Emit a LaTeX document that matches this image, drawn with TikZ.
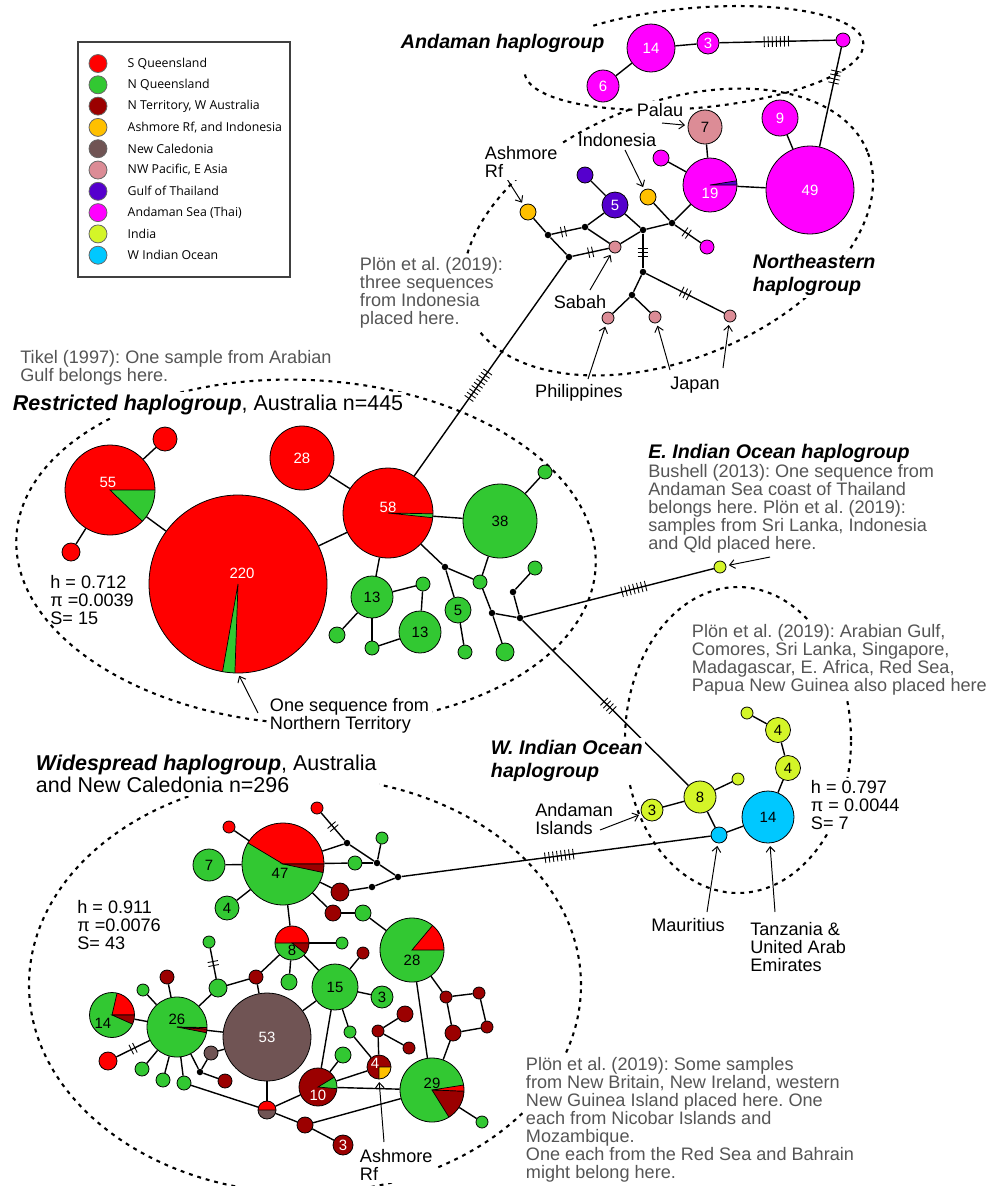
\documentclass[tikz,border=0pt]{standalone}
\usepackage{fontspec}
\setmainfont{Liberation Sans}
\newfontfamily\legfont{Open Sans}
\usetikzlibrary{positioning}
\usetikzlibrary{arrows.meta}
\usetikzlibrary{decorations.markings}

\definecolor{sqld}{RGB}{255,0,0}
\definecolor{nqld}{RGB}{50,200,50}
\definecolor{nterr}{RGB}{155,0,0}
\definecolor{ashm}{RGB}{255,192,0}
\definecolor{ncal}{RGB}{112,84,84}
\definecolor{nwpac}{RGB}{220,140,150}
\definecolor{gthai}{RGB}{85,0,205}
\definecolor{andam}{RGB}{255,0,255}
\definecolor{india}{RGB}{212,245,40}
\definecolor{wind}{RGB}{0,200,255}
\definecolor{notegray}{RGB}{85,85,85}

\newcommand{\notefont}{\fontsize{10.3}{10.2}\selectfont}
\newcommand{\grpfont}{\fontsize{11.2}{13}\selectfont\bfseries\itshape}
\newcommand{\ttlfont}{\fontsize{12.2}{12.8}\selectfont}

\pgfdeclarelayer{back}
\pgfsetlayers{back,main}
\frenchspacing

\begin{document}
\begin{tikzpicture}[x=0.2mm, y=0.2mm,
    hap/.style={circle, draw=black, line width=0.45pt, inner sep=0pt, minimum size=#1*0.4mm, font=\fontsize{8.5}{9}\selectfont},
    jn/.style={circle, fill=black, inner sep=0pt, minimum size=1.3mm},
    link/.style={line width=0.8pt},
    grp/.style={line width=1.2pt, dash pattern=on 2.2pt off 2.8pt},
    arr/.style={-{Straight Barb[length=3pt, width=5pt]}, line width=0.55pt, shorten >=1.5pt},
    muts/.style 2 args={postaction={decorate, decoration={markings, mark=at position #1 with {\foreach \k in {1,...,#2} {\draw[line width=0.5pt] ({(\k-0.5-#2/2)*2.3pt},-3pt) -- ++(0,6pt);}}}}},
    note/.style={text=notegray, align=left, inner sep=0pt, font=\notefont},
    tag/.style={align=left, inner sep=0pt, font=\notefont},
    grplbl/.style={align=left, inner sep=0pt, font=\grpfont},
    cut/.style={fill=white, inner sep=1.5pt},
    legtxt/.style={inner sep=0pt, font=\legfont\fontsize{7}{8}\selectfont},
    every label/.style={inner sep=0pt, font=\fontsize{8.5}{9}\selectfont},
    ]
    \useasboundingbox (0,0) rectangle (996,-1186);

    % legend
    \draw[black!75, line width=1pt] (78,-42) rectangle (290,-277);
    \node[hap=9, fill=sqld, draw=black!60] (leg1) at (98,-63.5) {};
    \node[legtxt, right=4mm of leg1] (legt1) {S Queensland};
    \node[hap=9, fill=nqld, draw=black!60] (leg2) at (98,-84.8) {};
    \node[legtxt, right=4mm of leg2] (legt2) {N Queensland};
    \node[hap=9, fill=nterr, draw=black!60] (leg3) at (98,-106.1) {};
    \node[legtxt, right=4mm of leg3] (legt3) {N Territory, W Australia};
    \node[hap=9, fill=ashm, draw=black!60] (leg4) at (98,-127.4) {};
    \node[legtxt, right=4mm of leg4] (legt4) {Ashmore Rf, and Indonesia};
    \node[hap=9, fill=ncal, draw=black!60] (leg5) at (98,-148.7) {};
    \node[legtxt, right=4mm of leg5] (legt5) {New Caledonia};
    \node[hap=9, fill=nwpac, draw=black!60] (leg6) at (98,-170) {};
    \node[legtxt, right=4mm of leg6] (legt6) {NW Pacific, E Asia};
    \node[hap=9, fill=gthai, draw=black!60] (leg7) at (98,-191.3) {};
    \node[legtxt, right=4mm of leg7] (legt7) {Gulf of Thailand};
    \node[hap=9, fill=andam, draw=black!60] (leg8) at (98,-212.6) {};
    \node[legtxt, right=4mm of leg8] (legt8) {Andaman Sea (Thai)};
    \node[hap=9, fill=india, draw=black!60] (leg9) at (98,-233.9) {};
    \node[legtxt, right=4mm of leg9] (legt9) {India};
    \node[hap=9, fill=wind, draw=black!60] (leg10) at (98,-255.2) {};
    \node[legtxt, right=4mm of leg10] (legt10) {W Indian Ocean};

    % Andaman and Northeastern haplogroups
    \node[hap=24, fill=andam, text=white] (a14) at (651,-48) {14};
    \node[hap=16, fill=andam, text=white] (a6) at (603,-86) {6};
    \node[hap=11, fill=andam, text=white] (a3) at (708,-43) {3};
    \node[hap=7, fill=andam] (aT) at (843,-40) {};
    \node[hap=44, fill=andam, text=white] (ne49) at (810,-190) {49};
    \node[hap=18, fill=andam, text=white] (ne9) at (780,-118) {9};
    \node[hap=27, fill=andam, path picture={\filldraw[fill=gthai, line width=0.4pt] (path picture bounding box.center) -- +(0:100) arc[start angle=0, end angle=9, radius=100] -- cycle;}, label={[text=white, yshift=-1.6mm]center:19}] (ne19) at (710,-185) {};
    \node[hap=17, fill=nwpac] (ne7) at (705,-127) {7};
    \node[hap=8, fill=andam] (neM1) at (661,-158) {};
    \node[hap=7, fill=andam] (neM2) at (707,-247) {};
    \node[hap=8, fill=ashm] (neY1) at (528,-212) {};
    \node[hap=8, fill=ashm] (neY2) at (648,-197) {};
    \node[hap=8, fill=gthai] (neP) at (585,-175) {};
    \node[hap=13, fill=gthai, text=white] (ne5) at (615,-205) {5};
    \node[hap=6, fill=nwpac] (neS) at (615,-247) {};
    \node[hap=6, fill=nwpac] (neP1) at (608,-318) {};
    \node[hap=6, fill=nwpac] (neP2) at (655,-317) {};
    \node[hap=6, fill=nwpac] (neP3) at (730,-316) {};
    \node[jn] (j1) at (548,-235) {};
    \node[jn] (j2) at (585,-227) {};
    \node[jn] (j3) at (569,-257) {};
    \node[jn] (j4) at (643,-230) {};
    \node[jn] (j5) at (672,-223) {};
    \node[jn] (j6) at (643,-272) {};
    \node[jn] (j7) at (632,-295) {};

    % Restricted haplogroup
    \node[hap=45, fill=sqld, path picture={\filldraw[fill=nqld, line width=0.4pt] (path picture bounding box.center) -- +(-44:100) arc[start angle=-44, end angle=0, radius=100] -- cycle;}, label={[text=white, xshift=-0.4mm, yshift=1.6mm]center:55}] (r55) at (110,-490) {};
    \node[hap=12, fill=sqld] (rS1) at (165,-439) {};
    \node[hap=9, fill=sqld] (rS2) at (71,-552) {};
    \node[hap=89, fill=sqld, path picture={\filldraw[fill=nqld, line width=0.4pt] (path picture bounding box.center) -- +(-100:100) arc[start angle=-100, end angle=-92, radius=100] -- cycle;}, label={[text=white, xshift=0.8mm, yshift=2.2mm]center:220}] (r220) at (238,-584) {};
    \node[hap=32, fill=sqld, text=white] (r28) at (302,-458) {28};
    \node[hap=45, fill=sqld, path picture={\filldraw[fill=nqld, line width=0.4pt] (path picture bounding box.center) -- +(-6:100) arc[start angle=-6, end angle=-1, radius=100] -- cycle;}, label={[text=white, yshift=1.2mm]center:58}] (r58) at (388,-513) {};
    \node[hap=37, fill=nqld] (r38) at (500,-521) {38};
    \node[hap=7, fill=nqld] (rG1) at (545,-472) {};
    \node[hap=7, fill=nqld] (rG2) at (535,-568) {};
    \node[hap=21, fill=nqld] (r13a) at (372,-597) {13};
    \node[hap=21, fill=nqld] (r13b) at (420,-632) {13};
    \node[hap=13, fill=nqld] (r5) at (458,-610) {5};
    \node[hap=7, fill=nqld] (rG3) at (423,-584) {};
    \node[hap=8, fill=nqld] (rG4) at (337,-635) {};
    \node[hap=7, fill=nqld] (rG5) at (372,-648) {};
    \node[hap=7, fill=nqld] (rG6) at (465,-652) {};
    \node[hap=9, fill=nqld] (rG7) at (505,-652) {};
    \node[hap=7, fill=nqld] (rG8) at (480,-582) {};
    \node[jn] (rj1) at (445,-567) {};
    \node[jn] (rj2) at (492,-613) {};
    \node[jn] (rj3) at (520,-618) {};
    \node[jn] (rj4) at (513,-592) {};

    % E. and W. Indian Ocean haplogroups
    \node[hap=6, fill=india] (eI) at (720,-567) {};
    \node[hap=16, fill=india] (w8) at (700,-797) {8};
    \node[hap=11, fill=india] (w3) at (652,-810) {3};
    \node[hap=6, fill=india] (wS1) at (738,-779) {};
    \node[hap=12.5, fill=india] (w4a) at (778,-730) {4};
    \node[hap=12.5, fill=india] (w4b) at (788,-768) {4};
    \node[hap=6, fill=india] (wS2) at (747,-713) {};
    \node[hap=26, fill=wind] (w14) at (768,-817) {14};
    \node[hap=8, fill=wind] (wM) at (719,-835) {};

    % Widespread haplogroup
    \node[hap=41, fill=nqld, path picture={\filldraw[fill=sqld, line width=0.4pt] (path picture bounding box.center) -- +(0:100) arc[start angle=0, end angle=149, radius=100] -- cycle; \filldraw[fill=nterr, line width=0.4pt] (path picture bounding box.center) -- +(-12:100) arc[start angle=-12, end angle=0, radius=100] -- cycle;}, label={[xshift=-0.6mm, yshift=-1.8mm]center:47}] (s47) at (283,-864) {};
    \node[hap=6, fill=sqld] (sR1) at (229,-827) {};
    \node[hap=6, fill=sqld] (sR2) at (317,-808) {};
    \node[hap=16, fill=nqld] (s7) at (209,-865) {7};
    \node[hap=12, fill=nqld] (s4) at (227,-908) {4};
    \node[jn] (sj1) at (347,-843) {};
    \node[jn] (sj2) at (377,-863) {};
    \node[jn] (sj3) at (398,-877) {};
    \node[jn] (sj4) at (372,-887) {};
    \node[hap=6, fill=nqld] (sG1) at (382,-838) {};
    \node[hap=7, fill=nqld] (sG2) at (355,-863) {};
    \node[hap=9, fill=nterr] (sD1) at (340,-892) {};
    \node[hap=8, fill=nterr] (sD2) at (333,-913) {};
    \node[hap=8, fill=nqld] (sG3) at (363,-913) {};
    \node[hap=17, fill=nqld, path picture={\filldraw[fill=sqld, line width=0.4pt] (path picture bounding box.center) -- +(0:100) arc[start angle=0, end angle=180, radius=100] -- cycle; \filldraw[fill=nterr, line width=0.4pt] (path picture bounding box.center) -- +(-38:100) arc[start angle=-38, end angle=0, radius=100] -- cycle;}, label={[yshift=-1.4mm]center:8}] (s8) at (292,-943) {};
    \node[hap=23, fill=nqld] (s15) at (335,-987) {15};
    \node[hap=11, fill=nqld] (s3) at (382,-997) {3};
    \node[hap=44, fill=ncal, text=white] (s53) at (267,-1037) {53};
    \node[hap=30, fill=nqld, path picture={\filldraw[fill=nterr, line width=0.4pt] (path picture bounding box.center) -- +(-11:100) arc[start angle=-11, end angle=-4, radius=100] -- cycle; \filldraw[fill=sqld, line width=0.4pt] (path picture bounding box.center) -- +(-4:100) arc[start angle=-4, end angle=-1, radius=100] -- cycle;}, label={[yshift=1.6mm]center:26}] (s26) at (177,-1027) {};
    \node[hap=22.5, fill=nqld, path picture={\filldraw[fill=sqld, line width=0.4pt] (path picture bounding box.center) -- +(0:100) arc[start angle=0, end angle=77, radius=100] -- cycle; \filldraw[fill=nterr, line width=0.4pt] (path picture bounding box.center) -- +(-24:100) arc[start angle=-24, end angle=0, radius=100] -- cycle;}, label={[xshift=-1.8mm, yshift=-1.6mm]center:14}] (s14) at (112,-1015) {};
    \node[hap=9, fill=sqld] (sR3) at (108,-1061) {};
    \node[hap=6, fill=nqld] (sG4) at (143,-990) {};
    \node[hap=7, fill=nqld] (sG5) at (142,-1069) {};
    \node[hap=7, fill=nqld] (sG6) at (163,-1080) {};
    \node[hap=7, fill=nqld] (sG7) at (184,-1083) {};
    \node[hap=7, fill=nterr] (sD3) at (167,-977) {};
    \node[hap=6, fill=nqld] (sG8) at (209,-942) {};
    \node[hap=9, fill=nqld] (sG9) at (218,-988) {};
    \node[hap=7, fill=nterr] (sD4) at (256,-977) {};
    \node[hap=8, fill=nqld] (sG10) at (289,-982) {};
    \node[hap=7, fill=ncal] (sB) at (211,-1053) {};
    \node[jn] (sj5) at (200,-1072) {};
    \node[hap=7, fill=nterr] (sD5) at (225,-1081) {};
    \node[hap=9, fill=ncal, path picture={\filldraw[fill=sqld, line width=0.4pt] (path picture bounding box.center) -- +(0:100) arc[start angle=0, end angle=180, radius=100] -- cycle;}] (sH) at (267,-1110) {};
    \node[hap=19, fill=nterr, path picture={\filldraw[fill=nqld, line width=0.4pt] (path picture bounding box.center) -- +(-5:100) arc[start angle=-5, end angle=31, radius=100] -- cycle;}, label={[text=white, yshift=-1.6mm]center:10}] (s10) at (318,-1087) {};
    \node[hap=8, fill=nterr] (sD6) at (305,-1125) {};
    \node[hap=10, fill=nterr, text=white] (s3r) at (343,-1145) {3};
    \node[hap=32, fill=nqld, path picture={\filldraw[fill=sqld, line width=0.4pt] (path picture bounding box.center) -- +(0:100) arc[start angle=0, end angle=50, radius=100] -- cycle;}, label={[yshift=-2mm]center:28}] (s28) at (412,-950) {};
    \node[hap=32, fill=nqld, path picture={\filldraw[fill=nterr, line width=0.4pt] (path picture bounding box.center) -- +(-58:100) arc[start angle=-58, end angle=-2, radius=100] -- cycle; \filldraw[fill=sqld, line width=0.4pt] (path picture bounding box.center) -- +(-2:100) arc[start angle=-2, end angle=9, radius=100] -- cycle;}, label={[yshift=1.4mm]center:29}] (s29) at (432,-1090) {};
    \node[hap=6, fill=nqld] (sG11) at (482,-1122) {};
    \node[hap=6, fill=nterr] (sD7) at (363,-953) {};
    \node[hap=8, fill=nterr] (sD8) at (405,-1014) {};
    \node[hap=6, fill=nterr] (sD9) at (378,-1031) {};
    \node[hap=6, fill=nterr] (sD10) at (409,-1048) {};
    \node[hap=6, fill=nterr] (sD11) at (446,-997) {};
    \node[hap=6, fill=nterr] (sD12) at (479,-993) {};
    \node[hap=6, fill=nterr] (sD13) at (487,-1027) {};
    \node[hap=8, fill=nterr] (sD14) at (453,-1033) {};
    \node[hap=6, fill=nqld] (sG12) at (350,-1032) {};
    \node[hap=8, fill=nqld] (sG13) at (343,-1055) {};
    \node[hap=6, fill=nqld] (sG14) at (342,-943) {};
    \node[hap=12, fill=nterr, path picture={\filldraw[fill=ashm, line width=0.4pt] (path picture bounding box.center) -- +(-90:100) arc[start angle=-90, end angle=0, radius=100] -- cycle;}, label={[text=white, xshift=-0.8mm, yshift=0.8mm]center:4}] (s4y) at (379,-1067) {};

    % texts
    \node[grplbl, cut, anchor=west] (andLbl) at (398,-43) {Andaman haplogroup};
    \node[tag, cut, anchor=west] (neAshL) at (482,-162) {Ashmore\\Rf};
    \node[tag] (neIndoL) at (617,-140) {Indonesia};
    \node[tag, cut] (nePalL) at (660,-110) {Palau};
    \node[note, cut, anchor=west] (nePlon) at (357,-293) {Plön et al. (2019):\\three sequences\\from Indonesia\\placed here.};
    \node[tag] (neSabL) at (580,-302) {Sabah};
    \node[tag] (nePhL) at (579,-393) {Philippines};
    \node[tag] (neJpL) at (695,-385) {Japan};
    \node[grplbl, cut, anchor=west] (neLbl) at (750,-275) {Northeastern\\haplogroup};
    \node[note, anchor=west] (rTikel) at (20,-368) {Tikel (1997): One sample from Arabian\\Gulf belongs here.};
    \node[cut, anchor=west, font=\ttlfont] (rTitle) at (10,-405) {\textbf{\textit{Restricted haplogroup}}, Australia n=445};
    \node[tag, anchor=west] (rStat) at (50,-600) {h = 0.712\\π =0.0039\\S= 15};
    \node[tag, cut, anchor=west] (rNT) at (267,-716) {One sequence from\\Northern Territory};
    \node[grplbl, anchor=west] (eLbl) at (648,-453) {E. Indian Ocean haplogroup};
    \node[note, anchor=west] (eNote) at (648,-509) {Bushell (2013): One sequence from\\Andaman Sea coast of Thailand\\belongs here. Plön et al. (2019):\\samples from Sri Lanka, Indonesia\\and Qld placed here.};
    \node[note, cut, anchor=west] (wNote) at (689,-660) {Plön et al. (2019): Arabian Gulf,\\Comores, Sri Lanka, Singapore,\\Madagascar, E. Africa, Red Sea,\\Papua New Guinea also placed here};
    \node[grplbl, cut, anchor=west] (wLbl) at (488,-761) {W. Indian Ocean\\haplogroup};
    \node[tag, cut, anchor=west] (wStat) at (808,-805) {h = 0.797\\π = 0.0044\\S= 7};
    \node[tag, anchor=west] (wAndL) at (535,-819) {Andaman\\Islands};
    \node[tag] (wMauL) at (688,-925) {Mauritius};
    \node[tag, anchor=west] (wTanL) at (750,-947) {Tanzania \&\\United Arab\\Emirates};
    \node[cut, anchor=west, align=left, font=\ttlfont] (sTitle) at (33,-774) {\textbf{\textit{Widespread haplogroup}}, Australia\\and New Caledonia n=296};
    \node[tag, anchor=west] (sStat) at (77,-925) {h = 0.911\\π =0.0076\\S= 43};
    \node[note, cut, anchor=west] (sNote) at (523,-1120) {Plön et al. (2019): Some samples\\from New Britain, New Ireland, western\\New Guinea Island placed here. One\\each from Nicobar Islands and\\Mozambique.\\One each from the Red Sea and Bahrain\\might belong here.};
    \node[tag, cut, anchor=west] (sAshL) at (357,-1165) {Ashmore\\Rf};

    % arrow starts
    \coordinate (ashA) at (500,-168);
    \coordinate (indoA) at (625,-150);
    \coordinate (palA) at (662,-123);
    \coordinate (sabA) at (590,-290);
    \coordinate (phA) at (588,-379);
    \coordinate (jpA) at (670,-370);
    \coordinate (jpB) at (723,-368);
    \coordinate (ntA) at (258,-713);
    \coordinate (eiA) at (770,-557);
    \coordinate (andA) at (600,-830);
    \coordinate (mauA) at (707,-912);
    \coordinate (tanA) at (775,-912);
    \coordinate (ashB) at (384,-1142);

    \begin{pgfonlayer}{back}
    % group outlines
    \draw[grp, rotate around={5:(694,-58)}] (694,-58) ++(125:170 and 50) arc[start angle=125, end angle=-180, x radius=170, y radius=50];
    \draw[grp, rotate around={22:(668,-232)}] (668,-232) ellipse[x radius=215, y radius=128];
    \draw[grp, rotate around={-3:(306,-552)}] (306,-552) ellipse[x radius=290, y radius=172];
    \draw[grp] (738,-740) ellipse[x radius=113, y radius=153];
    \draw[grp] (305,-985) ellipse[x radius=276, y radius=208];

    % Andaman and Northeastern links
    \draw[link] (a6) -- (a14);
    \draw[link] (a14) -- (a3);
    \draw[link, muts={0.49}{7}] (a3) -- (aT);
    \draw[link, muts={0.3}{4}] (aT) -- (ne49);
    \draw[link] (ne9) -- (ne49);
    \draw[link] (ne19) -- (ne49);
    \draw[link] (ne7) -- (ne19);
    \draw[link] (neM1) -- (ne19);
    \draw[link] (j5) -- (ne19);
    \draw[link, muts={0.45}{2}] (j5) -- (neM2);
    \draw[link] (j4) -- (j5);
    \draw[link] (neY2) -- (j5);
    \draw[link] (ne5) -- (j4);
    \draw[link] (neP) -- (ne5);
    \draw[link] (j2) -- (ne5);
    \draw[link] (neY1) -- (j1);
    \draw[link, muts={0.4}{2}] (j1) -- (j2);
    \draw[link] (j2) -- (neS);
    \draw[link] (j1) -- (j3);
    \draw[link, muts={0.5}{2}] (j3) -- (neS);
    \draw[link] (neS) -- (j4);
    \draw[link, muts={0.55}{3}] (j4) -- (j6);
    \draw[link] (j6) -- (j7);
    \draw[link] (j7) -- (neP1);
    \draw[link] (j7) -- (neP2);
    \draw[link, muts={0.5}{3}] (j6) -- (neP3);
    \draw[link, muts={0.42}{9}] (r58) -- (j3);

    % Restricted links
    \draw[link] (r55) -- (rS1);
    \draw[link] (r55) -- (rS2);
    \draw[link] (r55) -- (r220);
    \draw[link] (r220) -- (r58);
    \draw[link] (r28) -- (r58);
    \draw[link] (r58) -- (r38);
    \draw[link] (r38) -- (rG1);
    \draw[link] (r58) -- (r13a);
    \draw[link] (r58) -- (rj1);
    \draw[link] (rj1) -- (r5);
    \draw[link] (rj1) -- (rG8);
    \draw[link] (r38) -- (rG8);
    \draw[link] (rG8) -- (rj2);
    \draw[link] (rj2) -- (rG7);
    \draw[link] (rj2) -- (rj3);
    \draw[link] (rj3) -- (rj4);
    \draw[link] (rj4) -- (rG2);
    \draw[link] (r13a) -- (rG3);
    \draw[link] (rG3) -- (r13b);
    \draw[link] (r13b) -- (rG5);
    \draw[link] (r13a) -- (rG5);
    \draw[link] (r13a) -- (rG4);
    \draw[link] (r5) -- (rG6);
    \draw[link, muts={0.58}{7}] (rj3) -- (eI);
    \draw[link, muts={0.52}{4}] (rj3) -- (w8);

    % W. Indian links
    \draw[link] (w3) -- (w8);
    \draw[link] (w8) -- (wS1);
    \draw[link] (w8) -- (wM);
    \draw[link] (wM) -- (w14);
    \draw[link] (w14) -- (w4b);
    \draw[link] (w4b) -- (w4a);
    \draw[link] (w4a) -- (wS2);
    \draw[link, muts={0.51}{8}] (sj3) -- (wM);

    % Widespread links
    \draw[link] (s47) -- (s7);
    \draw[link] (s47) -- (s4);
    \draw[link] (s47) -- (sR1);
    \draw[link] (s47) -- (sj1);
    \draw[link, muts={0.5}{2}] (sR2) -- (sj1);
    \draw[link] (sj1) -- (sj2);
    \draw[link] (s47) -- (sG2);
    \draw[link] (sG2) -- (sj2);
    \draw[link] (sj2) -- (sG1);
    \draw[link] (sj2) -- (sj3);
    \draw[link] (sj3) -- (sj4);
    \draw[link] (sj4) -- (sD1);
    \draw[link] (sD1) -- (s47);
    \draw[link] (s47) -- (sD2);
    \draw[link] (sD2) -- (sG3);
    \draw[link] (sG3) -- (s28);
    \draw[link] (s47) -- (s8);
    \draw[link] (s8) -- (sG14);
    \draw[link] (s8) -- (sD4);
    \draw[link] (s8) -- (sG10);
    \draw[link] (s8) -- (s15);
    \draw[link] (sD4) -- (s53);
    \draw[link] (sD4) -- (sG9);
    \draw[link, muts={0.5}{2}] (sG9) -- (sG8);
    \draw[link] (sG9) -- (s26);
    \draw[link] (s26) -- (s14);
    \draw[link] (s26) -- (sD3);
    \draw[link] (s26) -- (sG4);
    \draw[link, muts={0.5}{2}] (s26) -- (sR3);
    \draw[link] (s26) -- (sG5);
    \draw[link] (s26) -- (sG6);
    \draw[link] (s26) -- (sG7);
    \draw[link] (s26) -- (s53);
    \draw[link] (s26) -- (sj5);
    \draw[link] (sj5) -- (sB);
    \draw[link] (sB) -- (s53);
    \draw[link] (sj5) -- (sD5);
    \draw[link] (sG7) -- (sH);
    \draw[link] (s53) -- (sH);
    \draw[link] (sH) -- (s10);
    \draw[link] (sH) -- (sD6);
    \draw[link] (sD6) -- (s3r);
    \draw[link] (sD6) -- (s29);
    \draw[link] (s15) -- (s53);
    \draw[link] (s15) -- (s3);
    \draw[link] (s15) -- (s10);
    \draw[link] (s15) -- (sG12);
    \draw[link] (s15) -- (sD7);
    \draw[link] (sG12) -- (s4y);
    \draw[link] (s4y) -- (s10);
    \draw[link] (s4y) -- (sD9);
    \draw[link] (sD9) -- (sD8);
    \draw[link] (sD9) -- (sD10);
    \draw[link] (s10) -- (sG13);
    \draw[link] (s10) -- (s29);
    \draw[link] (s28) -- (s29);
    \draw[link] (s28) -- (sD11);
    \draw[link] (sD11) -- (sD12);
    \draw[link] (sD12) -- (sD13);
    \draw[link] (sD13) -- (sD14);
    \draw[link] (sD14) -- (sD11);
    \draw[link] (sD14) -- (s29);
    \draw[link] (s29) -- (sG11);

    % arrows to haplotypes
    \draw[arr] (ashA) -- (neY1);
    \draw[arr] (indoA) -- (neY2);
    \draw[arr] (palA) -- (ne7);
    \draw[arr] (sabA) -- (neS);
    \draw[arr] (phA) -- (neP1);
    \draw[arr] (jpA) -- (neP2);
    \draw[arr] (jpB) -- (neP3);
    \draw[arr] (ntA) -- (r220.south);
    \draw[arr] (eiA) -- (eI);
    \draw[arr] (andA) -- (w3);
    \draw[arr] (mauA) -- (wM);
    \draw[arr] (tanA) -- (w14);
    \draw[arr] (ashB) -- (s4y.south);
    \end{pgfonlayer}
\end{tikzpicture}
\end{document}
